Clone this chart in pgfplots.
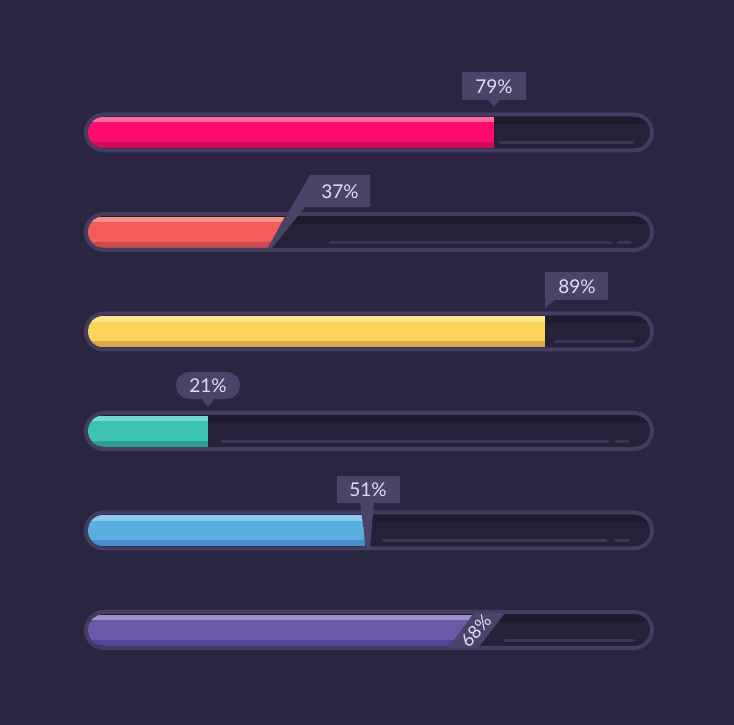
\documentclass[border=0pt]{standalone}
\usepackage{pgfplots}
\pgfplotsset{compat=1.18}
\usepackage{fontspec}
\setmainfont{Lato}

\definecolor{bg}{HTML}{2A2541}
\definecolor{trackrim}{HTML}{433D5F}
\definecolor{trackin}{HTML}{262138}
\definecolor{trackshade}{HTML}{1F1B2E}
\definecolor{groove}{HTML}{3B3654}
\definecolor{tip}{HTML}{4A4469}
\definecolor{tiptext}{HTML}{E2DEF2}
% bar colours: M main, L top highlight, D bottom shade
\definecolor{pinkM}{HTML}{FF0B6B}\definecolor{pinkL}{HTML}{FF6A9F}\definecolor{pinkD}{HTML}{CE0D5C}
\definecolor{coralM}{HTML}{F25C5A}\definecolor{coralL}{HTML}{F68F8A}\definecolor{coralD}{HTML}{C94A4E}
\definecolor{sunM}{HTML}{FCD35B}\definecolor{sunL}{HTML}{FDE38C}\definecolor{sunD}{HTML}{D9A847}
\definecolor{mintM}{HTML}{3DC3AF}\definecolor{mintL}{HTML}{74DACB}\definecolor{mintD}{HTML}{2F9D90}
\definecolor{skyM}{HTML}{5AAFE0}\definecolor{skyL}{HTML}{8ECCEF}\definecolor{skyD}{HTML}{4A8DCF}
\definecolor{irisM}{HTML}{6C5AA9}\definecolor{irisL}{HTML}{9D90CC}\definecolor{irisD}{HTML}{5543A0}

% empty track, #1 = row centre in px from the top
\newcommand\track[1]{%
  \filldraw[trackrim, fill=trackin, line width=4pt, rounded corners=18pt] (86,#1-18) rectangle (652,#1+18);
  \begin{scope}
    \clip[rounded corners=15.5pt] (88,#1-15.5) rectangle (650,#1+15.5);
    \fill[trackshade] (88,#1-15.5) rectangle (650,#1-8);
  \end{scope}}
\newcommand\groove[3]{\draw[groove, line width=3pt, line cap=round] (#2,#1+10.5) -- (#3,#1+10.5);}

% filled bar: #1 row, #2 end at top edge (% of track), #3 end at bottom edge, #4 colour
\newcommand\pbar[4]{%
  \begin{scope}
    \clip[rounded corners=15.5pt] ([yshift=15.5pt]axis cs:0,#1) rectangle ([yshift=-15.5pt]axis cs:105,#1);
    \clip ([yshift=17pt]axis cs:0,#1) -- ([yshift=17pt]axis cs:#2,#1) -- ([yshift=-17pt]axis cs:#3,#1) -- ([yshift=-17pt]axis cs:0,#1) -- cycle;
    \addplot[#4M, line width=31pt] coordinates {(0,#1) (#2,#1)};
    \addplot[#4L, line width=5.5pt, yshift=12.75pt] coordinates {(0,#1) (#2,#1)};
    \addplot[#4D, line width=6pt, yshift=-12.5pt] coordinates {(0,#1) (#2,#1)};
  \end{scope}}

\begin{document}
\begin{tikzpicture}
\useasboundingbox (0,0) rectangle (734pt,725pt);
\fill[bg] (0,0) rectangle (734pt,725pt);

\begin{scope}[x=1pt, y=-1pt, yshift=725pt]
  \track{132.5}\track{232}\track{331.5}\track{431}\track{530.5}\track{630}
  \groove{132.5}{500}{633}
  \groove{232}{330}{611}\groove{232}{618}{630}
  \groove{331.5}{555}{633}
  \groove{431}{222}{608}\groove{431}{616}{628}
  \groove{530.5}{383}{606}\groove{530.5}{615}{628}
  \groove{630}{505}{633}
\end{scope}

\begin{axis}[
    at={(0,0)}, anchor=south west,
    scale only axis, width=734pt, height=725pt,
    xmin=-15.7143, xmax=115.3571,
    ymin=-1.3317, ymax=5.9548, y dir=reverse,
    hide axis, clip=false,
]
\pbar{0}{72.5}{72.5}{pink}
\pbar{1}{35.3}{32.1}{coral}
\pbar{2}{81.6}{81.6}{sun}
\pbar{3}{21.4}{21.4}{mint}
\pbar{4}{49.4}{49.4}{sky}
\pbar{5}{68.9}{64.6}{iris}
\end{axis}

\begin{scope}[x=1pt, y=-1pt, yshift=725pt, every node/.style={text=tiptext, font=\fontsize{19}{19}\selectfont}]
  % 79
  \fill[tip] (462,72) rectangle (526,100);
  \fill[tip] (488,99) -- (500,99) -- (494,107) -- cycle;
  \node at (494,86.5) {79\%};
  % 37
  \fill[tip] (310,175) -- (370,175) -- (370,207) -- (305,207) -- (272,248) -- (267.6,248) -- cycle;
  \node at (340,191.5) {37\%};
  % 89
  \fill[tip] (545,272) rectangle (608,300);
  \fill[tip] (545,299) -- (556,299) -- (545,308) -- cycle;
  \node at (577,286.5) {89\%};
  % 21
  \fill[tip, rounded corners=13pt] (176,372) rectangle (240,399);
  \fill[tip] (201,398) -- (215,398) -- (208,407) -- cycle;
  \node at (208,386) {21\%};
  % 51
  \fill[tip] (337,476) rectangle (400,503);
  \fill[tip] (360,502) -- (374,502) -- (370,548) -- (366,548) -- cycle;
  \node at (368,490) {51\%};
  % 68
  \fill[tip] (474,613) -- (505,613) -- (478,648) -- (448,648) -- cycle;
  \node[rotate=48, font=\fontsize{18}{18}\selectfont] at (476,631) {68\%};
\end{scope}
\end{tikzpicture}
\end{document}
